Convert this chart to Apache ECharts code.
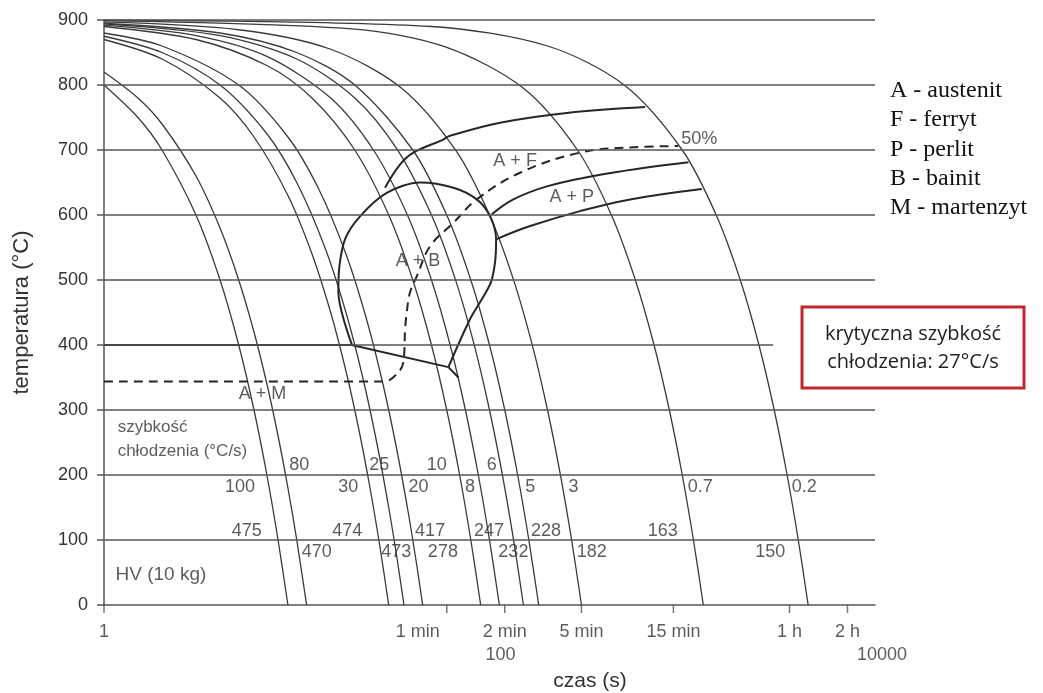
<!DOCTYPE html>
<html>
<head>
<meta charset="utf-8">
<script src="https://cdn.jsdelivr.net/npm/echarts@6/dist/echarts.min.js"></script>
<style>
  html, body { margin: 0; padding: 0; background: #ffffff; }
  #chart { width: 1043px; height: 693px; }
</style>
</head>
<body>
<div id="chart"></div>
<script>
// ---- Cooling curves: [time (s), temperature (°C)] ----
const curve100 = [[1,800],[1.5,750],[2,700],[3,600],[4,500],[5,400],[6,300],[7,200],[8,100],[9,0]];
const curve80  = [[1,820],[1.5,780],[2,740],[3,660],[4,580],[5,500],[6,420],[7,340],[8,260],[9,180],[10,100],[11.25,0]];
const curve30  = [[1,870],[2,840],[4,780],[6,720],[9,630],[12,540],[15,450],[18,360],[21,270],[24,180],[27,90],[30,0]];
const curve25  = [[1,875],[2,850],[4,800],[7,725],[10,650],[14,550],[18,450],[22,350],[26,250],[30,150],[33,75],[36,0]];
const curve20  = [[1,880],[2,860],[5,800],[9,720],[13,640],[18,540],[23,440],[28,340],[33,240],[38,140],[42,60],[45,0]];
const curve10  = [[1,890],[3,870],[7,830],[12,780],[20,700],[30,600],[40,500],[50,400],[60,300],[70,200],[80,100],[90,0]];
const curve8   = [[1,892],[3,876],[7,844],[15,780],[25,700],[37.5,600],[50,500],[62.5,400],[75,300],[87.5,200],[100,100],[112.5,0]];
const curve6   = [[1,894],[4,876],[10,840],[20,780],[33,702],[50,600],[66,504],[83,402],[100,300],[116,204],[133,102],[150,0]];
const curve5   = [[1,895],[4,880],[10,850],[20,800],[40,700],[60,600],[80,500],[100,400],[120,300],[140,200],[160,100],[180,0]];
const curve3   = [[1,897],[5,885],[15,855],[35,795],[67,699],[100,600],[133,501],[167,399],[200,300],[233,201],[267,99],[300,0]];
const curve07  = [[1,899],[20,886],[60,858],[150,795],[286,700],[429,600],[571,500],[714,400],[857,300],[1000,200],[1143,100],[1286,0]];
const curve02  = [[1,900],[50,890],[200,860],[500,800],[1000,700],[1500,600],[2000,500],[2500,400],[3000,300],[3500,200],[4000,100],[4500,0]];
const coolingCurves = [curve100, curve80, curve30, curve25, curve20, curve10, curve8, curve6, curve5, curve3, curve07, curve02];

// Cooling rate (°C/s) and hardness HV of each curve, same order
const coolingRates = ['100','80','30','25','20','10','8','6','5','3','0.7','0.2'];
const hardnessHV   = ['475','470','474','473','417','278','247','232','228','182','163','150'];

// ---- Transformation lines ----
const ferriteStart  = [[28.7,642],[34.4,678],[40.3,696],[57.6,716],[61.2,721],[113.5,742],[251.8,757],[641.6,766]];
const pearliteStart = [[102.8,601],[133,624],[198.3,644],[346,660],[655,673],[1077,681]];
const pearliteEnd   = [[109,563],[162.5,583],[295,606],[537,624],[1264,640]];
const bainiteLoop   = [[19.3,401],[16.44,481],[16.64,521],[17.81,563],[21.3,598],[29.3,634],[43.6,650],[65,642],
                       [85.9,624],[100.7,598],[108.2,563],[107,529],[101.9,497],[91.5,471],[79.3,440],[61.2,366]];
const bainiteTail   = [[61.2,366],[69,350]];
const martensiteStart = [[1,400],[19.3,400],[61.2,366]];
const halfTransformed = [[1,344],[28.1,344],[31.6,350],[35.7,373],[36.5,424],[37.2,450],[38.7,481],[42,506],
                         [49.2,552],[65,588],[85.9,624],[144,665],[295,696],[537,704],[952,706]];

// ---- Axes ----
const tempTicks = [0,100,200,300,400,500,600,700,800,900];
const timeTicks = [1, 60, 120, 300, 900, 3600, 7200];
const timeTickLabels = ['1', '1 min', '2 min', '5 min', '15 min', '1 h', '2 h'];
const secondsLabels = [[100, '100'], [10000, '10000']];

// ---- Annotation anchors [time, temperature] ----
const rateLabelAt = [[5.08,181],[10.3,215],[18.5,181],[26.8,215],[42.8,181],[53.3,215],[79.3,181],[102.8,215],[162.5,181],[272.5,181],[1239,181],[4295,181]];
const hvLabelAt   = [[5.5,114],[12.7,82],[18.3,114],[32.8,82],[49.2,114],[57.3,82],[99.5,114],[133,82],[196.6,114],[339.6,82],[793,114],[2859,82]];
const phaseLabels = [[135.8,683,'A + F'],[267,627,'A + P'],[42.6,529,'A + B'],[6.64,324,'A + M'],[1224,717,'50%']];
const noteLabels  = [[1.17,273,'szybkość'],[1.17,237,'chłodzenia (°C/s)']];
const hvNote      = [[1.14,47,'HV (10 kg)']];

const INK = '#333333';
const GRIDC = '#555555';
const SANS = '"Liberation Sans", Arial, sans-serif';

const chart = echarts.init(document.getElementById('chart'), null, { renderer: 'canvas' });

function textSeries(items, labelOpt) {
  return {
    type: 'scatter', symbolSize: 1, itemStyle: { color: 'rgba(0,0,0,0)' },
    silent: true, clip: false, z: 6,
    data: items.map(it => ({ value: [it[0], it[1]], name: it[2] })),
    label: Object.assign({ show: true, position: 'inside', formatter: '{b}',
      color: INK, fontFamily: SANS, fontSize: 18 }, labelOpt)
  };
}

const series = [];

// horizontal temperature grid (the 400 °C line stops short)
series.push({
  type: 'line', data: [], silent: true, z: 1,
  markLine: {
    silent: true, symbol: ['none', 'none'], label: { show: false },
    lineStyle: { color: GRIDC, width: 1.5, type: 'solid' },
    data: tempTicks.filter(v => v > 0).map(v => [{ coord: [1, v] }, { coord: [v === 400 ? 2960 : 10000, v] }])
  }
});

coolingCurves.forEach((c, i) => {
  series.push({
    name: coolingRates[i] + ' °C/s', type: 'line', data: c, smooth: 0.3, symbol: 'none',
    silent: true, z: 3, lineStyle: { color: '#3a3a3a', width: 1.3 }
  });
});

const bold = { color: '#262626', width: 2 };
[ferriteStart, pearliteStart, pearliteEnd].forEach(d => {
  series.push({ type: 'line', data: d, smooth: 0.4, symbol: 'none', silent: true, z: 4, lineStyle: bold });
});
series.push({ type: 'line', data: bainiteLoop, smooth: 0.3, symbol: 'none', silent: true, z: 4, lineStyle: bold });
[bainiteTail, martensiteStart].forEach(d => {
  series.push({ type: 'line', data: d, smooth: false, symbol: 'none', silent: true, z: 4, lineStyle: bold });
});
series.push({ type: 'line', data: halfTransformed, smooth: 0.4, symbol: 'none', silent: true, z: 4,
  lineStyle: { color: '#262626', width: 2, type: [9, 6] } });

// time ticks on the x axis
series.push({
  type: 'scatter', silent: true, clip: false, z: 5,
  data: timeTicks.map(t => [t, 0]),
  symbol: 'rect', symbolSize: [1.5, 8], symbolOffset: [0, 4], itemStyle: { color: GRIDC }
});
// time tick labels
const tickLabelSeries = textSeries(timeTicks.map((t, i) => [t, 0, timeTickLabels[i]]), { offset: [0, 27] });
tickLabelSeries.data[1].label = { offset: [-29, 27] };
series.push(tickLabelSeries);
const secLabelSeries = textSeries(secondsLabels.map(s => [s[0], 0, s[1]]), { offset: [0, 50] });
secLabelSeries.data[0].label = { offset: [11, 50] };
secLabelSeries.data[1].label = { offset: [7, 50] };
series.push(secLabelSeries);

series.push(textSeries(rateLabelAt.map((p, i) => [p[0], p[1], coolingRates[i]]), {}));
series.push(textSeries(hvLabelAt.map((p, i) => [p[0], p[1], hardnessHV[i]]), {}));
series.push(textSeries(phaseLabels, { fontSize: 18 }));
series.push(textSeries(noteLabels, { position: 'right', distance: 0, fontSize: 17 }));
series.push(textSeries(hvNote, { position: 'right', distance: 0, fontSize: 19 }));

const legendLines = ['A - austenit', 'F - ferryt', 'P - perlit', 'B - bainit', 'M - martenzyt'];

chart.setOption({
  animation: false,
  backgroundColor: '#ffffff',
  grid: { left: 104, top: 20, width: 771, height: 585, containLabel: false, outerBoundsMode: 'none' },
  xAxis: {
    type: 'log', logBase: 10, min: 1, max: 10000,
    axisLine: { show: true, lineStyle: { color: GRIDC, width: 1.5 } },
    axisTick: { show: false }, axisLabel: { show: false },
    splitLine: { show: false }, minorTick: { show: false }
  },
  yAxis: {
    type: 'value', min: 0, max: 900, interval: 100,
    name: 'temperatura (°C)', nameLocation: 'middle', nameGap: 71,
    nameTextStyle: { color: INK, fontFamily: SANS, fontSize: 22 },
    axisLine: { show: true, lineStyle: { color: GRIDC, width: 1.5 } },
    axisTick: { show: true, length: 7, lineStyle: { color: GRIDC, width: 1.5 } },
    axisLabel: { color: INK, fontFamily: SANS, fontSize: 18, margin: 16 },
    splitLine: { show: false }
  },
  series: series,
  graphic: [
    { type: 'text', x: 590, y: 681, silent: true,
      style: { text: 'czas (s)', fill: INK, font: '21px ' + SANS, align: 'center', verticalAlign: 'middle' } },
    ...legendLines.map((t, i) => ({
      type: 'text', x: 890, y: 91 + i * 29.2, silent: true,
      style: { text: t, fill: '#111111', font: '24px "Liberation Serif", "Times New Roman", serif', align: 'left', verticalAlign: 'middle' }
    })),
    { type: 'rect', silent: true, shape: { x: 802, y: 307, width: 222, height: 81 },
      style: { fill: '#ffffff', stroke: '#c1272d', lineWidth: 3 } },
    { type: 'text', x: 913, y: 334, silent: true,
      style: { text: 'krytyczna szybkość', fill: '#222222', font: '20px "Open Sans", "Noto Sans", sans-serif', align: 'center', verticalAlign: 'middle' } },
    { type: 'text', x: 913, y: 362, silent: true,
      style: { text: 'chłodzenia: 27°C/s', fill: '#222222', font: '20px "Open Sans", "Noto Sans", sans-serif', align: 'center', verticalAlign: 'middle' } }
  ]
});
</script>
</body>
</html>
